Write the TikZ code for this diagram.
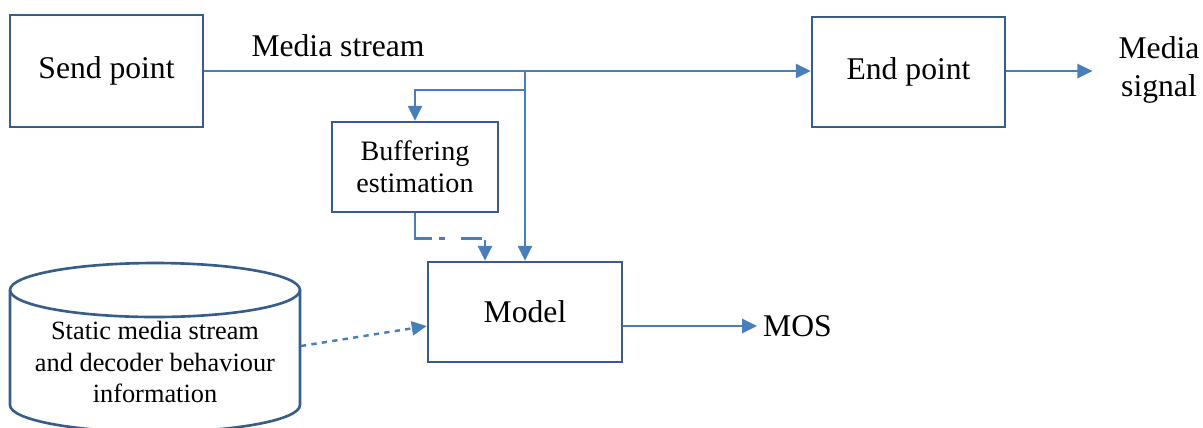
\documentclass[tikz,border=0pt]{standalone}
\usepackage{fontspec}
\setmainfont{Liberation Serif}
\usetikzlibrary{arrows.meta,calc}
\definecolor{linkblue}{RGB}{74,126,187}
\definecolor{boxblue}{RGB}{56,93,138}

\begin{document}
\begin{tikzpicture}[x=0.02cm,y=0.02cm,
  box/.style={draw=boxblue,line width=1.5pt,fill=white,font=\fontsize{18}{21}\selectfont},
  smallbox/.style={box,align=center,font=\fontsize{16}{18}\selectfont},
  flow/.style={draw=linkblue,line width=1.4pt,-{Triangle[length=8.5pt,width=8pt]}}]
\useasboundingbox (0,0) rectangle (1203,-427);

 \node[box,minimum width=3.86cm,minimum height=2.24cm] (send) at (106.5,-71) {Send point};
 \node[box,minimum width=3.86cm,minimum height=2.2cm] (end) at (908.5,-72) {End point};
 \node[smallbox,minimum width=3.32cm,minimum height=1.8cm] (buff) at (415,-167) {Buffering\\estimation};
 \node[box,minimum width=3.88cm,minimum height=2cm] (model) at (525,-312) {Model};

 % database
 \draw[boxblue,line width=1.5pt] (155,-290) ellipse [x radius=2.9cm,y radius=0.54cm];
 \draw[boxblue,line width=1.5pt] (10,-290) -- (10,-405) arc[start angle=180,end angle=360,x radius=2.9cm,y radius=0.54cm] -- (300,-290);
 \node[align=center,font=\fontsize{15}{18}\selectfont] (info) at (155,-362) {Static media stream\\and decoder behaviour\\information};
 \coordinate (infoe) at (301,-346);

 \node[font=\fontsize{18}{21}\selectfont,anchor=south] (stream) at (338,-63) {Media stream};
 \node[font=\fontsize{18}{21.5}\selectfont,align=center] (sig) at (1159,-70) {Media\\signal};
 \node[font=\fontsize{18}{21}\selectfont,anchor=west] (mos) at (757,-326) {MOS};

 \coordinate (split) at (525,-71);
 \coordinate (bsplit) at (525,-90);

 \draw[flow] (send.east) -- (send.east -| end.west);
 \draw[flow,shorten >=0.4cm] (end.east |- send.east) -- (sig.west |- send.east);
 \draw[flow] (split) -- (model.north);
 \draw[flow] (bsplit) -| (buff.north);
 \draw[flow,dash pattern=on 24pt off 4pt on 3.4pt off 9pt on 12pt off 2.5pt on 20pt] (buff.south) -- ++(0,-25) -| ($(model.north)+(-40,0)$);
 \draw[flow,dashed] (infoe) -- (model.west |- mos.west);
 \draw[flow] (model.east |- mos.west) -- (mos.west);
\end{tikzpicture}
\end{document}
